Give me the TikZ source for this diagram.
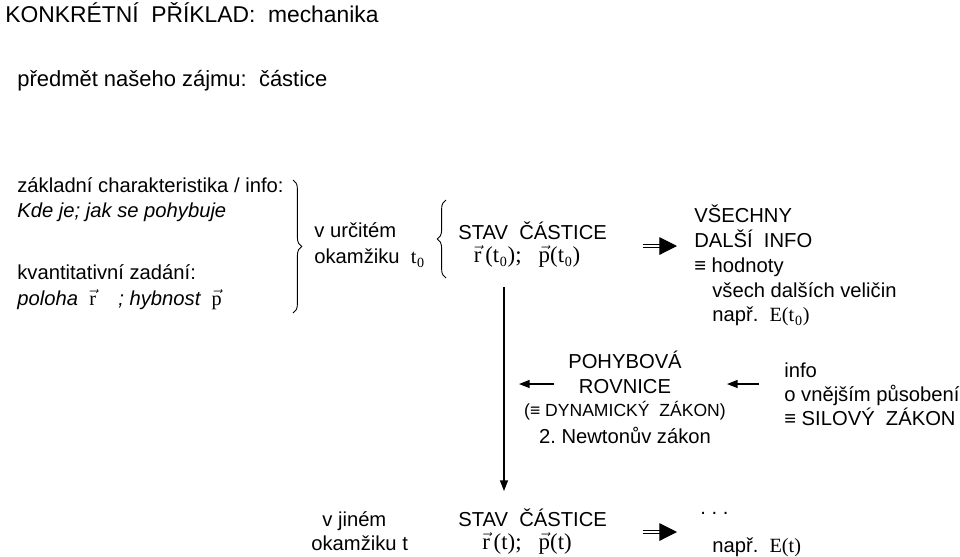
\documentclass[tikz,border=0pt]{standalone}
\usepackage{amsmath}
\usepackage{fontspec}
\setmainfont{Liberation Sans}
\newfontfamily\tms{Liberation Serif}
\usetikzlibrary{arrows.meta}
\usetikzlibrary{decorations.pathreplacing}
\frenchspacing

\newcommand{\vr}{$\vec{\hbox{\upshape\tms r}}$}
\newcommand{\vp}{$\vec{\hbox{\upshape\tms p}}$}
\newcommand{\sub}[1]{\kern0.4pt\raisebox{-0.45ex}{\fontsize{8}{9}\selectfont\tms #1}\kern0.4pt}

\tikzset{
  txt/.style={anchor=base west, inner sep=0pt, font=\fontsize{11.5}{14}\selectfont},
  mid/.style={anchor=base, inner sep=0pt, font=\fontsize{11.5}{14}\selectfont},
  small/.style={anchor=base, inner sep=0pt, font=\fontsize{10}{12}\selectfont},
  tmsvals/.style={anchor=base, inner sep=0pt, font=\fontsize{13}{15}\selectfont\tms},
  sgl/.style={line width=0.7pt, -{Triangle[length=6pt,width=4.5pt]}},
  dbl/.style={double, double distance=1.6pt, line width=0.6pt, -{Triangle[length=10pt,width=10pt]}},
  brc/.style={decorate, decoration={brace, amplitude=5pt}, line width=0.5pt}
}

\begin{document}
\begin{tikzpicture}[x=0.02cm, y=-0.02cm]
\useasboundingbox (0,0) rectangle (960,556);

\node[txt, font=\fontsize{13}{15}\selectfont] (title) at (5,22) {KONKRÉTNÍ\ \ PŘÍKLAD:\ \ mechanika};
\node[txt, font=\fontsize{12.5}{15}\selectfont] (subject) at (17,86) {předmět našeho zájmu:\ \ částice};

% left block
\node[txt] (basic) at (17,192) {základní charakteristika / info:};
\node[txt] (where) at (17,217) {\itshape Kde je; jak se pohybuje};
\node[txt] (quant) at (17,279) {kvantitativní zadání:};
\node[txt] (posmom) at (17,305) {\itshape poloha\ \ \vr\ \ \ \ ; hybnost\ \ \vp};

\draw[brc] (293,180) -- (293,313);

\node[txt] (given) at (314,237) {v určitém};
\node[txt] (moment0) at (314,263) {okamžiku\ \ {\tms t\sub{0}}};

\draw[brc] (446,278) -- (446,200);

\node[txt] (state0) at (458,239) {STAV\ \ ČÁSTICE};
\node[tmsvals] (vals0) at (527,262) {\vr\,(t\sub{0});\ \ \ \vp(t\sub{0})};

\node[txt] (all) at (694,222) {VŠECHNY};
\node[txt] (other) at (694,247) {DALŠÍ\ \ INFO};
\node[txt] (values) at (694,272) {≡ hodnoty};
\node[txt] (quantities) at (712,297) {všech dalších veličin};
\node[txt] (eg0) at (712,321) {např.\ \ {\tms E(t\sub{0})}};

\coordinate (dbl0s) at (643,246);
\coordinate (dbl0e) at (677,246);
\draw[dbl] (dbl0s) -- (dbl0e);

% vertical arrow
\coordinate (down0) at (504,287);
\coordinate (down1) at (504,491);
\draw[sgl] (down0) -- (down1);

% equation of motion
\node[mid] (eqm) at (625,368) {POHYBOVÁ};
\node[mid] (eqm2) at (625,393) {ROVNICE};
\node[small] (dyn) at (625,416) {(≡ DYNAMICKÝ\ \ ZÁKON)};
\node[mid] (newton) at (625,443) {2. Newtonův zákon};

\node[txt] (info) at (784,377) {info};
\node[txt] (outer) at (784,401) {o vnějším působení};
\node[txt] (force) at (784,425) {≡ SILOVÝ\ \ ZÁKON};

\coordinate (l1s) at (554,384);
\coordinate (l1e) at (519,384);
\coordinate (l2s) at (759,384);
\coordinate (l2e) at (727,384);
\draw[sgl] (l1s) -- (l1e);
\draw[sgl] (l2s) -- (l2e);

% bottom row
\node[txt] (other1) at (322,526) {v jiném};
\node[txt] (moment1) at (311,550) {okamžiku t};
\node[txt] (state1) at (458,526) {STAV\ \ ČÁSTICE};
\node[tmsvals] (vals1) at (527,549) {\vr\,(t);\ \ \ \vp(t)};

\coordinate (dbl1s) at (643,532);
\coordinate (dbl1e) at (677,532);
\draw[dbl] (dbl1s) -- (dbl1e);

\node[txt] (dots) at (700,514) {.\ .\ .};
\node[txt] (eg1) at (712,552) {např.\ \ {\tms E(t)}};

\end{tikzpicture}
\end{document}
